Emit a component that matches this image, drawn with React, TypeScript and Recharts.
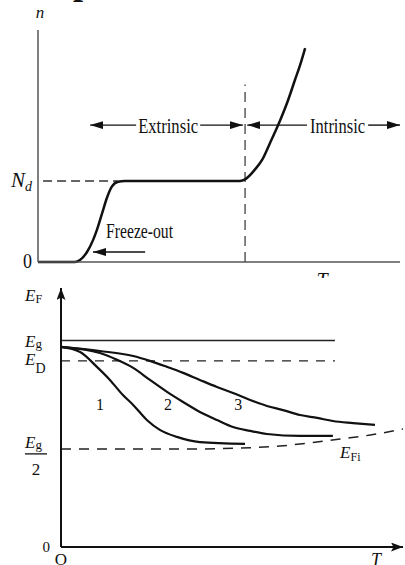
import React from 'react'
import { LineChart, Line, XAxis, YAxis, ReferenceLine, ReferenceDot } from 'recharts'

const INK = '#111'
const AXIS_GREY = '#555'
const SERIF = '"Liberation Serif", "Times New Roman", serif'

// ---- upper panel: electron density n against temperature T ----
const nTemps = [0, 10.2, 11.6, 13.5, 15.2, 16.3, 17.7, 19.1, 20.4, 22.1, 24.0, 40.0, 55.8, 57.2, 59.9, 61.9, 64.1, 66.9, 69.1, 71.0, 72.4, 73.8]
const nValues = [0, 0, 0.025, 0.12, 0.27, 0.4, 0.6, 0.8, 0.93, 0.99, 1.0, 1.0, 1.0, 1.02, 1.14, 1.26, 1.47, 1.75, 2.0, 2.25, 2.43, 2.64]
const ND = 1
const N_TOP = 2.864
const T_SPLIT = 57.2 // extrinsic -> intrinsic crossover
const SPLIT_TOP = 2.19
const REGION_ROW = 1.69
const extrinsicArrows = [27.1, 14.4, 44.8, 56.6] // left arrow from/to, right arrow from/to
const intrinsicArrows = [74.3, 57.8, 91.2, 100]
const freezeArrow = [29.6, 15.2]
const FREEZE_ROW = 0.123

// ---- lower panel: Fermi level E_F against T for three donor densities ----
const EG = 1
const ED = 0.901
const EG_HALF = 0.475
const E_TOP = 1.254
const curve1T = [0, 5.6, 10.5, 14.3, 18.1, 21.1, 25.1, 28.9, 33.9, 40.6, 53.8]
const curve1E = [0.969, 0.944, 0.872, 0.809, 0.736, 0.688, 0.615, 0.567, 0.533, 0.508, 0.499]
const curve2T = [0, 11.4, 16.4, 21.1, 26.0, 31.0, 35.7, 40.6, 45.6, 50.3, 55.3, 60.2, 69.9, 79.5]
const curve2E = [0.969, 0.939, 0.906, 0.867, 0.809, 0.751, 0.702, 0.654, 0.615, 0.581, 0.562, 0.547, 0.538, 0.538]
const curve3T = [0, 11.4, 21.1, 26.0, 31.0, 35.7, 40.6, 45.6, 50.3, 55.3, 60.2, 64.9, 69.9, 74.9, 79.5, 85.4, 91.8]
const curve3E = [0.969, 0.949, 0.925, 0.901, 0.872, 0.843, 0.809, 0.775, 0.746, 0.712, 0.683, 0.663, 0.639, 0.625, 0.61, 0.6, 0.591]
const intrinsicT = [0, 40.6, 52.3, 64.0, 72.8, 81.6, 90.4, 100]
const intrinsicE = [0.475, 0.475, 0.479, 0.489, 0.504, 0.523, 0.542, 0.571]
const LEVEL_END = 80.1
const curveLabels = ['1', '2', '3']
const curveLabelT = [11.4, 31.3, 51.8]
const CURVE_LABEL_ROW = 0.688

const zip = (ts: number[], vs: number[], key: string) => ts.map((T, i) => ({ T, [key]: vs[i] }))
const nCurve = zip(nTemps, nValues, 'n')
const fermi1 = zip(curve1T, curve1E, 'E')
const fermi2 = zip(curve2T, curve2E, 'E')
const fermi3 = zip(curve3T, curve3E, 'E')
const fermiIntrinsic = zip(intrinsicT, intrinsicE, 'E')

const squeezed = (text: string, x: number, y: number, width: number, size: number, anchor = 'middle') => (
  <text x={x} y={y} textAnchor={anchor} fontFamily={SERIF} fontSize={size} fill={INK}
    textLength={width} lengthAdjust="spacingAndGlyphs">{text}</text>
)

function DensityTick({ y, payload }: any) {
  if (payload.value === 0) return squeezed('0', 32, y + 6, 9, 20, 'end')
  return (
    <text x={11} y={y + 6} fontFamily={SERIF} fill={INK} fontStyle="italic">
      <tspan fontSize={21}>N</tspan>
      <tspan fontSize={14} dy={4}>d</tspan>
    </text>
  )
}

function EnergyTick({ y, payload }: any) {
  const v = payload.value
  if (v === 0) return <text x={50} y={y + 5} textAnchor="end" fontFamily={SERIF} fontSize={15} fill={INK}>0</text>
  if (v === EG) return (
    <text x={25} y={y + 6.5} fontFamily={SERIF} fill={INK}>
      <tspan fontSize={17} fontStyle="italic">E</tspan>
      <tspan fontSize={13} dy={1}>g</tspan>
    </text>
  )
  if (v === ED) return (
    <text x={25} y={y + 4.5} fontFamily={SERIF} fill={INK}>
      <tspan fontSize={17} fontStyle="italic">E</tspan>
      <tspan fontSize={14} dy={8}>D</tspan>
    </text>
  )
  return (
    <g fontFamily={SERIF} fill={INK}>
      <text x={25} y={y - 1}>
        <tspan fontSize={17} fontStyle="italic">E</tspan>
        <tspan fontSize={13} dy={1}>g</tspan>
      </text>
      <line x1={25} x2={47} y1={y + 5} y2={y + 5} stroke={INK} strokeWidth={1.3} />
      <text x={36} y={y + 26} textAnchor="middle" fontSize={17}>2</text>
    </g>
  )
}

function OriginTick({ x }: any) {
  return <text x={x} y={287} textAnchor="middle" fontFamily={SERIF} fontSize={17} fill={INK}>O</text>
}

const DensityTitle = () => (
  <g fontFamily={SERIF} fill={INK}>
    <text x={73} y={-6} fontSize={36} fontWeight="bold">p</text>
    <text x={40} y={18} textAnchor="middle" fontSize={17} fontStyle="italic">n</text>
  </g>
)
const TopTempTitle = () => (
  <text x={322} y={287} textAnchor="middle" fontFamily={SERIF} fontSize={20} fontStyle="italic" fill={INK}>T</text>
)
const EnergyTitle = () => (
  <text x={25} y={23} fontFamily={SERIF} fill={INK}>
    <tspan fontSize={17} fontStyle="italic">E</tspan>
    <tspan fontSize={12} dy={2}>F</tspan>
  </text>
)
const BottomTempTitle = () => (
  <text x={376} y={288} textAnchor="middle" fontFamily={SERIF} fontSize={18} fontStyle="italic" fill={INK}>T</text>
)

// small text placed at a data point
const textAt = (content: (cx: number, cy: number) => React.ReactNode) => (p: any) => <g>{content(p.cx, p.cy)}</g>

export default function App() {
  const regionLine = { stroke: INK, strokeWidth: 1.4 }
  return (
    <div style={{ position: 'absolute', left: 0, top: 0, width: 405, height: 565, background: '#fff', overflow: 'hidden' }}>
      <svg width={0} height={0} style={{ position: 'absolute' }}>
        <defs>
          <marker id="tipThin" viewBox="0 0 13 8" refX={13} refY={4} markerWidth={13} markerHeight={8}
            markerUnits="userSpaceOnUse" orient="auto-start-reverse">
            <path d="M0,0 L13,4 L0,8 Z" fill={INK} />
          </marker>
          <marker id="tipAxis" viewBox="0 0 12 9" refX={12} refY={4.5} markerWidth={12} markerHeight={9}
            markerUnits="userSpaceOnUse" orient="auto-start-reverse">
            <path d="M0,0 L12,4.5 L0,9 L2.5,4.5 Z" fill={INK} />
          </marker>
        </defs>
      </svg>

      <div style={{ position: 'absolute', left: 0, top: 0 }}>
        <LineChart width={405} height={290} data={nCurve} margin={{ top: 30, right: 5, bottom: 10, left: 0 }}>
          <XAxis type="number" dataKey="T" domain={[0, 100]} tick={false} tickLine={false} height={18}
            axisLine={{ stroke: AXIS_GREY, strokeWidth: 1.5 }} label={TopTempTitle} />
          <YAxis type="number" domain={[0, N_TOP]} ticks={[0, ND]} interval={0} width={38} tickLine={false}
            tick={<DensityTick />} axisLine={{ stroke: AXIS_GREY, strokeWidth: 1.5 }} label={DensityTitle} />
          <ReferenceLine segment={[{ x: 1.4, y: ND }, { x: 22, y: ND }]} stroke="#333" strokeWidth={1.4} strokeDasharray="9 5" />
          <ReferenceLine segment={[{ x: T_SPLIT, y: 0 }, { x: T_SPLIT, y: SPLIT_TOP }]} stroke="#333" strokeWidth={1.2} strokeDasharray="10 6" />
          <ReferenceLine segment={[{ x: extrinsicArrows[0], y: REGION_ROW }, { x: extrinsicArrows[1], y: REGION_ROW }]} {...regionLine} markerEnd="url(#tipThin)" />
          <ReferenceLine segment={[{ x: extrinsicArrows[2], y: REGION_ROW }, { x: extrinsicArrows[3], y: REGION_ROW }]} {...regionLine} markerEnd="url(#tipThin)" />
          <ReferenceLine segment={[{ x: intrinsicArrows[0], y: REGION_ROW }, { x: intrinsicArrows[1], y: REGION_ROW }]} {...regionLine} markerEnd="url(#tipThin)" />
          <ReferenceLine segment={[{ x: intrinsicArrows[2], y: REGION_ROW }, { x: intrinsicArrows[3], y: REGION_ROW }]} {...regionLine} markerEnd="url(#tipThin)" />
          <ReferenceLine segment={[{ x: freezeArrow[0], y: FREEZE_ROW }, { x: freezeArrow[1], y: FREEZE_ROW }]} {...regionLine} markerEnd="url(#tipThin)" />
          <ReferenceDot x={(extrinsicArrows[0] + extrinsicArrows[2]) / 2} y={REGION_ROW} r={0}
            shape={textAt((cx, cy) => squeezed('Extrinsic', cx, cy + 8, 60, 22))} />
          <ReferenceDot x={(intrinsicArrows[0] + intrinsicArrows[2]) / 2} y={REGION_ROW} r={0}
            shape={textAt((cx, cy) => squeezed('Intrinsic', cx, cy + 8, 55, 22))} />
          <ReferenceDot x={18.8} y={FREEZE_ROW} r={0}
            shape={textAt((cx, cy) => squeezed('Freeze-out', cx, cy - 14, 67, 22, 'start'))} />
          <Line dataKey="n" type="monotone" stroke={INK} strokeWidth={2.5} dot={false} isAnimationActive={false} />
        </LineChart>
      </div>

      <div style={{ position: 'absolute', left: 0, top: 278, background: '#fff' }}>
        <LineChart width={405} height={287} margin={{ top: 10, right: 2, bottom: 0, left: 0 }}>
          <XAxis type="number" dataKey="T" domain={[0, 100]} ticks={[0]} interval={0} tickLine={false} height={18}
            tick={<OriginTick />} axisLine={{ stroke: INK, strokeWidth: 2, markerEnd: 'url(#tipAxis)' }} label={BottomTempTitle} />
          <YAxis type="number" domain={[0, E_TOP]} ticks={[0, EG_HALF, ED, EG]} interval={0} width={61} tickLine={false}
            tick={<EnergyTick />} axisLine={{ stroke: INK, strokeWidth: 2, markerStart: 'url(#tipAxis)' }} label={EnergyTitle} />
          <ReferenceLine segment={[{ x: 0, y: EG }, { x: LEVEL_END, y: EG }]} stroke="#222" strokeWidth={1.5} />
          <ReferenceLine segment={[{ x: 0, y: ED }, { x: LEVEL_END, y: ED }]} stroke="#222" strokeWidth={1.4} strokeDasharray="9 8" />
          <Line data={fermiIntrinsic} dataKey="E" type="monotone" stroke="#222" strokeWidth={1.5} strokeDasharray="10 8" dot={false} isAnimationActive={false} />
          <Line data={fermi1} dataKey="E" type="monotone" stroke={INK} strokeWidth={2.2} dot={false} isAnimationActive={false} />
          <Line data={fermi2} dataKey="E" type="monotone" stroke={INK} strokeWidth={2.2} dot={false} isAnimationActive={false} />
          <Line data={fermi3} dataKey="E" type="monotone" stroke={INK} strokeWidth={2.2} dot={false} isAnimationActive={false} />
          {curveLabels.map((lab, i) => (
            <ReferenceDot key={lab} x={curveLabelT[i]} y={CURVE_LABEL_ROW} r={0}
              shape={textAt((cx, cy) => <text x={cx} y={cy + 5} textAnchor="middle" fontFamily={SERIF} fontSize={16} fill={INK}>{lab}</text>)} />
          ))}
          <ReferenceDot x={81.6} y={0.446} r={0}
            shape={textAt((cx, cy) => (
              <text x={cx} y={cy + 3} fontFamily={SERIF} fill={INK}>
                <tspan fontSize={17} fontStyle="italic">E</tspan>
                <tspan fontSize={12} dy={3}>Fi</tspan>
              </text>
            ))} />
        </LineChart>
      </div>
    </div>
  )
}
